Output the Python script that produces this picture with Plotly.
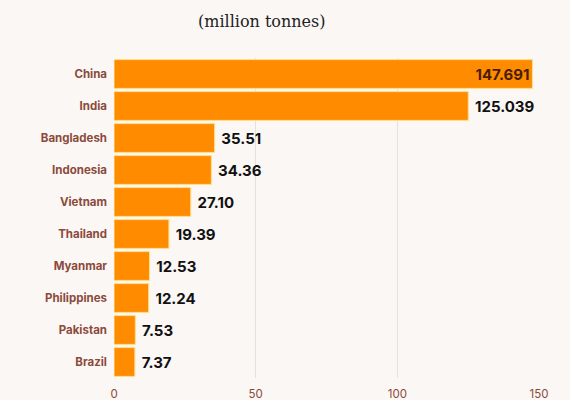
import plotly.graph_objects as go

countries = ["China", "India", "Bangladesh", "Indonesia", "Vietnam", "Thailand",
             "Myanmar", "Philippines", "Pakistan", "Brazil"]
values = [147.691, 125.039, 35.51, 34.36, 27.10, 19.39, 12.53, 12.24, 7.53, 7.37]
value_labels = ["147.691", "125.039", "35.51", "34.36", "27.10", "19.39",
                "12.53", "12.24", "7.53", "7.37"]
x_ticks = [0, 50, 100, 150]

positions = ["inside"] + ["outside"] * (len(values) - 1)
display_text = [value_labels[0]] + ["\u2005" + t for t in value_labels[1:]]

fig = go.Figure(go.Bar(
    x=values, y=countries, orientation="h",
    text=display_text, textposition=positions,
    insidetextanchor="end",
    insidetextfont=dict(family="Inter", size=15, color="#4a1c05", weight="bold"),
    outsidetextfont=dict(family="Inter", size=15, color="#111111", weight="bold"),
    marker=dict(color="#FF8C00", line=dict(color="#FFE08A", width=1)),
    cliponaxis=False,
))

fig.update_layout(
    width=570, height=400,
    margin=dict(l=114, r=31, t=58, b=22),
    paper_bgcolor="#FBF7F4", plot_bgcolor="#FBF7F4",
    bargap=0.1,
    showlegend=False,
)
fig.add_annotation(text="(million tonnes)", xref="paper", yref="paper",
                   x=(262 - 114) / 425, y=1 + (58 - 22) / 320, showarrow=False,
                   font=dict(family="DejaVu Serif", size=16, color="#222222"),
                   xanchor="center", yanchor="middle")

fig.update_xaxes(range=[0, 150], tickvals=x_ticks, showgrid=True,
                 gridcolor="#E6E1DE", gridwidth=1, zeroline=False,
                 tickfont=dict(family="Inter", size=11.5, color="#8B4A3C"),
                 ticks="", ticklabelstandoff=7, automargin=False, fixedrange=True)
fig.update_yaxes(autorange="reversed", showgrid=False, ticks="", automargin=False,
                 tickfont=dict(family="Inter", size=11.5, color="#8B4A3C", weight="bold"),
                 ticklabelstandoff=6)

fig.write_html("out.html")
